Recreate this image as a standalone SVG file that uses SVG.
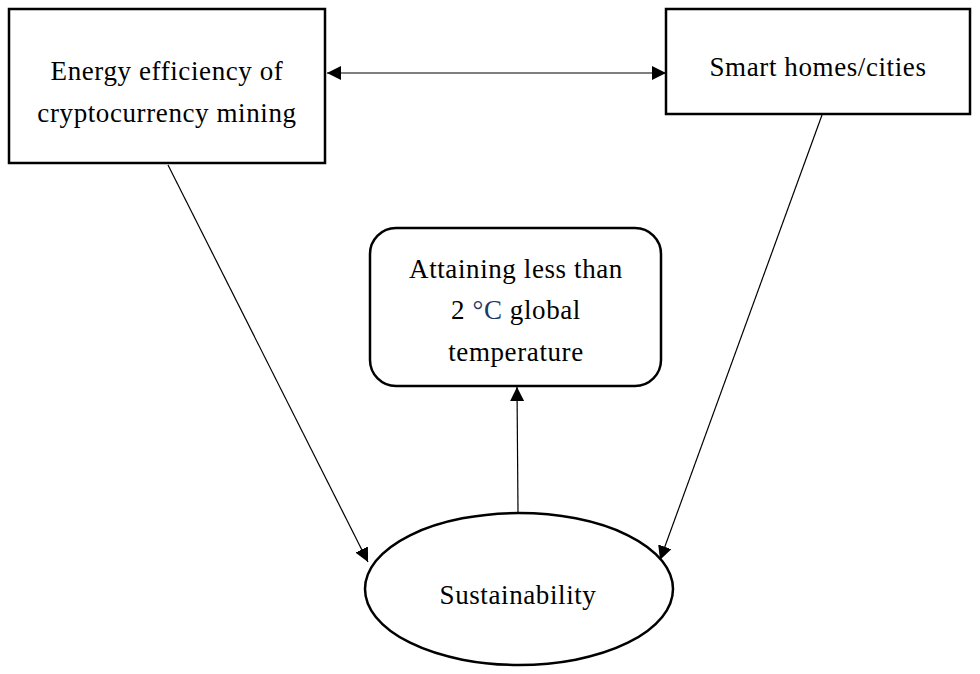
<svg xmlns="http://www.w3.org/2000/svg" width="980" height="674" viewBox="0 0 980 674">
<style>
.box{fill:#fff;stroke:#000;stroke-width:2.5}
.t{font-family:"Liberation Serif","DejaVu Serif",serif;font-size:27px;letter-spacing:0.6px;fill:#000;text-anchor:middle}
.c{stroke:#000;stroke-width:1.2;fill:none}
</style>
<defs>
<marker id="ah" viewBox="0 0 10 10" refX="10" refY="5" markerWidth="14" markerHeight="14" markerUnits="userSpaceOnUse" orient="auto-start-reverse">
<path d="M0,0 L10,5 L0,10 Z" fill="#000"/>
</marker>
</defs>
<rect width="980" height="674" fill="#fff"/>
<g id="connectors">
<line class="c" x1="327" y1="73" x2="666" y2="73" marker-start="url(#ah)" marker-end="url(#ah)"/>
<line class="c" x1="168" y1="165" x2="368" y2="562" marker-end="url(#ah)"/>
<line class="c" x1="822" y1="115" x2="660" y2="560" marker-end="url(#ah)"/>
<line class="c" x1="518" y1="512" x2="517" y2="387" marker-end="url(#ah)"/>
</g>
<g id="energy">
<rect class="box" x="9" y="9" width="316" height="154"/>
<text class="t" x="167" y="80">Energy efficiency of</text>
<text class="t" x="167" y="122">cryptocurrency mining</text>
</g>
<g id="smart">
<rect class="box" x="666" y="9" width="304" height="105"/>
<text class="t" x="818" y="76">Smart homes/cities</text>
</g>
<g id="attaining">
<rect class="box" x="370" y="228" width="291" height="158" rx="26"/>
<text class="t" x="516" y="278">Attaining less than</text>
<text class="t" x="516" y="319">2 <tspan fill="#1f3864">°C</tspan> global</text>
<text class="t" x="516" y="361">temperature</text>
</g>
<g id="sustainability">
<ellipse class="box" cx="519" cy="589" rx="154" ry="76"/>
<text class="t" x="518" y="604">Sustainability</text>
</g>
</svg>
